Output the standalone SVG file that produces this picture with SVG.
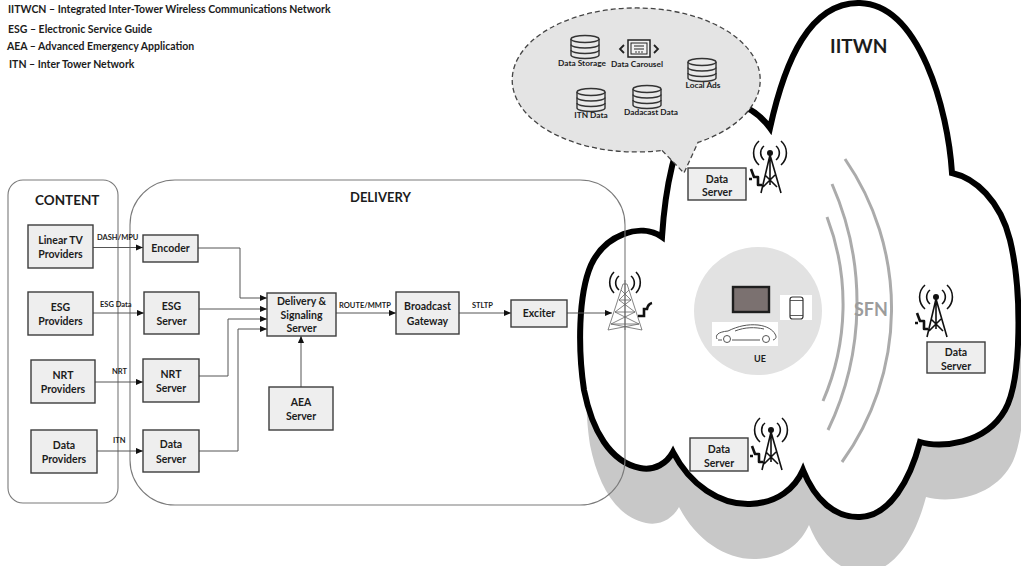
<svg xmlns="http://www.w3.org/2000/svg" xmlns:xlink="http://www.w3.org/1999/xlink" width="1021" height="566" viewBox="0 0 1021 566">
  <style>
    text { font-family: Lato, "Liberation Sans", sans-serif; font-weight: bold; fill: #1c1c1c; }
    .legend { font-size: 10.5px; }
    .box { fill: #eeeeee; stroke: #3c3c3c; stroke-width: 1.4; }
    .lbl { font-size: 10.5px; text-anchor: middle; }
    .small { font-size: 7.5px; }
    .tiny { font-size: 8.3px; text-anchor: middle; }
    .panel { fill: none; stroke: #7a7a7a; stroke-width: 1.1; }
    .wire { fill: none; stroke: #555; stroke-width: 1; marker-end: url(#ah); }
    .wave { fill: none; stroke: #111; stroke-width: 1.6; }
    .sfn { fill: none; stroke: #ababab; stroke-width: 3; }
  </style>
  <defs>
    <marker id="ah" viewBox="0 0 8 8" refX="8" refY="4" markerWidth="7" markerHeight="7" orient="auto" markerUnits="userSpaceOnUse">
      <path d="M0,0.5 L8,4 L0,7.5 Z" fill="#111"/>
    </marker>
    <!-- cloud outline, reused for the drop shadow -->
    <path id="cloudShape" d="M662,237 C640,222 605,235 591,265 C578,295 578,350 584,390 C592,430 610,462 640,468 C655,471 667,463 673,452 C690,485 720,505 750,504 C778,503 795,488 803,470 C815,500 835,518 860,517 C890,516 910,480 920,442 C940,448 985,445 1005,410 C1022,380 1022,290 1010,240 C1000,200 975,178 952,173 C948,110 920,5 860,3 C810,2 785,60 770,128 C750,100 715,95 695,115 C675,135 665,190 662,237 Z"/>
    <!-- database cylinder icon, 30x24 -->
    <g id="db">
      <path d="M1,4 V20 A14,3.5 0 0 0 29,20 V4" fill="#e9e9e9" stroke="#333" stroke-width="1.4"/>
      <ellipse cx="15" cy="4" rx="14" ry="3.5" fill="#e9e9e9" stroke="#333" stroke-width="1.4"/>
      <path d="M1,9.5 A14,3.5 0 0 0 29,9.5 M1,15 A14,3.5 0 0 0 29,15" fill="none" stroke="#333" stroke-width="1.4"/>
    </g>
    <!-- simple transmitter tower with operator, apex at 0,0 -->
    <g id="tower">
      <path class="wave" d="M-6,-7 A9,9 0 0 0 -6,7 M6,-7 A9,9 0 0 1 6,7 M-11,-12 A16,16 0 0 0 -11,12 M11,-12 A16,16 0 0 1 11,12"/>
      <circle cx="0" cy="0" r="3" fill="#111"/>
      <path d="M-9,40 L0,2 L11,40 M0,2 V32 M-5,22 L7,34 M5,22 L-7,34" fill="none" stroke="#111" stroke-width="1.6"/>
      <path d="M-19,16 L-16,24 L-12,24 L-12,32 L-8,32 M-21,26 L-18,26" fill="none" stroke="#111" stroke-width="2.6" stroke-linejoin="round"/>
    </g>
  </defs>

  <rect width="1021" height="566" fill="#ffffff"/>

  <!-- abbreviations -->
  <g id="legend">
    <text class="legend" x="8" y="13">IITWCN – Integrated Inter-Tower Wireless Communications Network</text>
    <text class="legend" x="8" y="33">ESG – Electronic Service Guide</text>
    <text class="legend" x="7" y="50">AEA – Advanced Emergency Application</text>
    <text class="legend" x="9" y="68">ITN – Inter Tower Network</text>
  </g>

  <!-- IITWN cloud with shadow -->
  <g id="iitwn-cloud">
    <use xlink:href="#cloudShape" transform="translate(6,55)" fill="#c8c8c8"/>
    <use xlink:href="#cloudShape" fill="#ffffff" stroke="#000" stroke-width="6" stroke-linejoin="miter" stroke-miterlimit="10"/>
    <text x="830" y="53" style="font-size:19px" fill="#111">IITWN</text>
  </g>

  <!-- SFN wavefronts -->
  <g id="sfn">
    <path class="sfn" d="M827,217 A244,244 0 0 1 823,401"/>
    <path class="sfn" d="M832,184 A294,294 0 0 1 828,430"/>
    <path class="sfn" d="M845,159 A263,263 0 0 1 842,462"/>
    <text x="854" y="316" style="font-size:18px;fill:#9c9c9c">SFN</text>
  </g>

  <!-- data bubble -->
  <g id="data-bubble">
    <path d="M662,150.4 L684,173 L698,142.4 A124,72 0 1 0 662,150.4 Z" fill="#e4e4e4" stroke="#444" stroke-width="1.3" stroke-dasharray="5,3"/>
    <use xlink:href="#db" transform="translate(570,35)"/>
    <text class="tiny" x="582" y="66">Data Storage</text>
    <g id="data-carousel-icon" fill="none" stroke="#222">
      <rect x="628" y="40" width="22" height="17" fill="#f2f2f2" stroke-width="1.5"/>
      <rect x="631" y="43" width="16" height="11" stroke-width="1"/>
      <path d="M634,46 H644 M634,49 H644" stroke-width="1"/>
      <path d="M624,45 L620,49 L624,53 M654,45 L658,49 L654,53" stroke-width="1.8"/>
      <circle cx="636" cy="52" r="0.8" fill="#222" stroke="none"/>
      <circle cx="639" cy="52" r="0.8" fill="#222" stroke="none"/>
      <circle cx="642" cy="52" r="0.8" fill="#222" stroke="none"/>
    </g>
    <text class="tiny" x="637" y="67">Data Carousel</text>
    <use xlink:href="#db" transform="translate(687,58)"/>
    <text class="tiny" x="703" y="88">Local Ads</text>
    <use xlink:href="#db" transform="translate(576,88)"/>
    <text class="tiny" x="591" y="118">ITN Data</text>
    <use xlink:href="#db" transform="translate(632,85)"/>
    <text class="tiny" x="651" y="115">Dadacast Data</text>
  </g>

  <!-- panels -->
  <g id="content-panel">
    <rect class="panel" x="8" y="180" width="110" height="323" rx="15"/>
    <text x="35" y="205" style="font-size:13.5px">CONTENT</text>
  </g>
  <g id="delivery-panel">
    <rect class="panel" x="130" y="180" width="495" height="325" rx="45"/>
    <text x="350" y="202" style="font-size:13px">DELIVERY</text>
  </g>

  <!-- connectors -->
  <g id="connectors">
    <path class="wire" d="M93,247.5 H143"/>
    <path class="wire" d="M93,313 H144"/>
    <path class="wire" d="M95,382 H143"/>
    <path class="wire" d="M97,451 H143"/>
    <path class="wire" d="M198,248 H240 V298 H267"/>
    <path class="wire" d="M199,309 H267"/>
    <path class="wire" d="M199,376 H228 V319 H267"/>
    <path class="wire" d="M199,451 H238 V329 H267"/>
    <path class="wire" d="M301,387 V336"/>
    <path class="wire" d="M336,313 H396"/>
    <path class="wire" d="M459,313 H511"/>
    <path class="wire" d="M567,313 H612"/>
    <text class="small" x="97" y="240">DASH/MPU</text>
    <text class="small" x="100" y="307">ESG Data</text>
    <text class="small" x="112" y="374">NRT</text>
    <text class="small" x="113" y="443">ITN</text>
    <text class="small" x="339" y="308">ROUTE/MMTP</text>
    <text class="small" x="472" y="308">STLTP</text>
  </g>

  <!-- content nodes -->
  <g id="linear-tv-providers">
    <rect class="box" x="28" y="225" width="65" height="43"/>
    <text class="lbl" x="60.5" y="243.5">Linear TV</text>
    <text class="lbl" x="60.5" y="258">Providers</text>
  </g>
  <g id="esg-providers">
    <rect class="box" x="28" y="292" width="65" height="43"/>
    <text class="lbl" x="60.5" y="310.5">ESG</text>
    <text class="lbl" x="60.5" y="325">Providers</text>
  </g>
  <g id="nrt-providers">
    <rect class="box" x="31" y="360" width="64" height="43"/>
    <text class="lbl" x="63" y="378.5">NRT</text>
    <text class="lbl" x="63" y="393">Providers</text>
  </g>
  <g id="data-providers">
    <rect class="box" x="31" y="430" width="66" height="43"/>
    <text class="lbl" x="64" y="448.5">Data</text>
    <text class="lbl" x="64" y="463">Providers</text>
  </g>

  <!-- delivery nodes -->
  <g id="encoder">
    <rect class="box" x="143" y="235" width="55" height="27"/>
    <text class="lbl" x="170.5" y="252">Encoder</text>
  </g>
  <g id="esg-server">
    <rect class="box" x="144" y="292" width="55" height="42"/>
    <text class="lbl" x="171.5" y="310">ESG</text>
    <text class="lbl" x="171.5" y="324.5">Server</text>
  </g>
  <g id="nrt-server">
    <rect class="box" x="143" y="359" width="56" height="43"/>
    <text class="lbl" x="171" y="377.5">NRT</text>
    <text class="lbl" x="171" y="392">Server</text>
  </g>
  <g id="data-server">
    <rect class="box" x="143" y="430" width="56" height="42"/>
    <text class="lbl" x="171" y="448">Data</text>
    <text class="lbl" x="171" y="462.5">Server</text>
  </g>
  <g id="delivery-signaling-server">
    <rect class="box" x="267" y="293" width="69" height="43"/>
    <text class="lbl" x="301.5" y="305">Delivery &amp;</text>
    <text class="lbl" x="301.5" y="318.5">Signaling</text>
    <text class="lbl" x="301.5" y="332">Server</text>
  </g>
  <g id="aea-server">
    <rect class="box" x="269" y="387" width="64" height="43"/>
    <text class="lbl" x="301" y="405.5">AEA</text>
    <text class="lbl" x="301" y="420">Server</text>
  </g>
  <g id="broadcast-gateway">
    <rect class="box" x="396" y="292" width="63" height="42"/>
    <text class="lbl" x="427.5" y="310">Broadcast</text>
    <text class="lbl" x="427.5" y="324.5">Gateway</text>
  </g>
  <g id="exciter">
    <rect class="box" x="511" y="300" width="56" height="27"/>
    <text class="lbl" x="539" y="317">Exciter</text>
  </g>

  <!-- main transmitter -->
  <g id="main-tower">
    <path class="wave" stroke-width="2" d="M619,276 A9,9 0 0 0 619,290 M631,276 A9,9 0 0 1 631,290 M614,272 A15,15 0 0 0 614,293 M636,272 A15,15 0 0 1 636,293"/>
    <g fill="none" stroke="#666" stroke-width="0.8">
      <path d="M608,330 L623,284 L627,284 L642,330 M625,280 V330"/>
      <path d="M619,300 H631 M615,312 H635 M611,324 H639"/>
      <path d="M621,290 L631,300 M629,290 L619,300 M619,300 L635,312 M631,300 L615,312 M615,312 L639,324 M635,312 L611,324 M611,324 L642,330 M639,324 L608,330"/>
    </g>
    <path d="M638,316 H644 V309 H647 Q648,304 652,303" fill="none" stroke="#111" stroke-width="2.6"/>
  </g>

  <!-- cloud data servers and towers -->
  <g id="tower-top">
    <use xlink:href="#tower" transform="translate(770,153)"/>
    <rect class="box" x="688" y="168" width="58" height="32"/>
    <text class="lbl" x="717" y="182.5">Data</text>
    <text class="lbl" x="717" y="196">Server</text>
  </g>
  <g id="tower-right">
    <use xlink:href="#tower" transform="translate(936,297)"/>
    <rect class="box" x="927" y="342" width="58" height="31"/>
    <text class="lbl" x="956" y="356">Data</text>
    <text class="lbl" x="956" y="369.5">Server</text>
  </g>
  <g id="tower-bottom">
    <use xlink:href="#tower" transform="translate(771,430)"/>
    <rect class="box" x="690" y="438" width="58" height="33"/>
    <text class="lbl" x="719" y="453">Data</text>
    <text class="lbl" x="719" y="466.5">Server</text>
  </g>

  <!-- user equipment -->
  <g id="ue">
    <circle cx="758" cy="311" r="64" fill="#e2e2e2"/>
    <rect x="733" y="287" width="36" height="25" fill="#7b7170" stroke="#1e1e1e" stroke-width="2.4"/>
    <rect x="780" y="295" width="32" height="25" fill="#ffffff"/>
    <rect x="790" y="297" width="13" height="22" rx="2.5" fill="none" stroke="#333" stroke-width="1.2"/>
    <path d="M790,300.5 H803 M790,315.5 H803" stroke="#333" stroke-width="0.8"/>
    <rect x="712" y="322" width="66" height="24" fill="#ffffff"/>
    <g fill="none" stroke="#555" stroke-width="1">
      <path d="M717,339 C715,335 718,332 728,331 C738,326 748,324 758,325 C767,326 773,330 775,334 C777,337 776,339 773,340 M760,340 H732 M722,340 H718"/>
      <path d="M735,331 C745,327 755,327 764,329"/>
      <circle cx="727" cy="339" r="3.5"/>
      <circle cx="766" cy="339" r="3.5"/>
    </g>
    <text x="760" y="362" style="font-size:9px" text-anchor="middle">UE</text>
  </g>
</svg>
